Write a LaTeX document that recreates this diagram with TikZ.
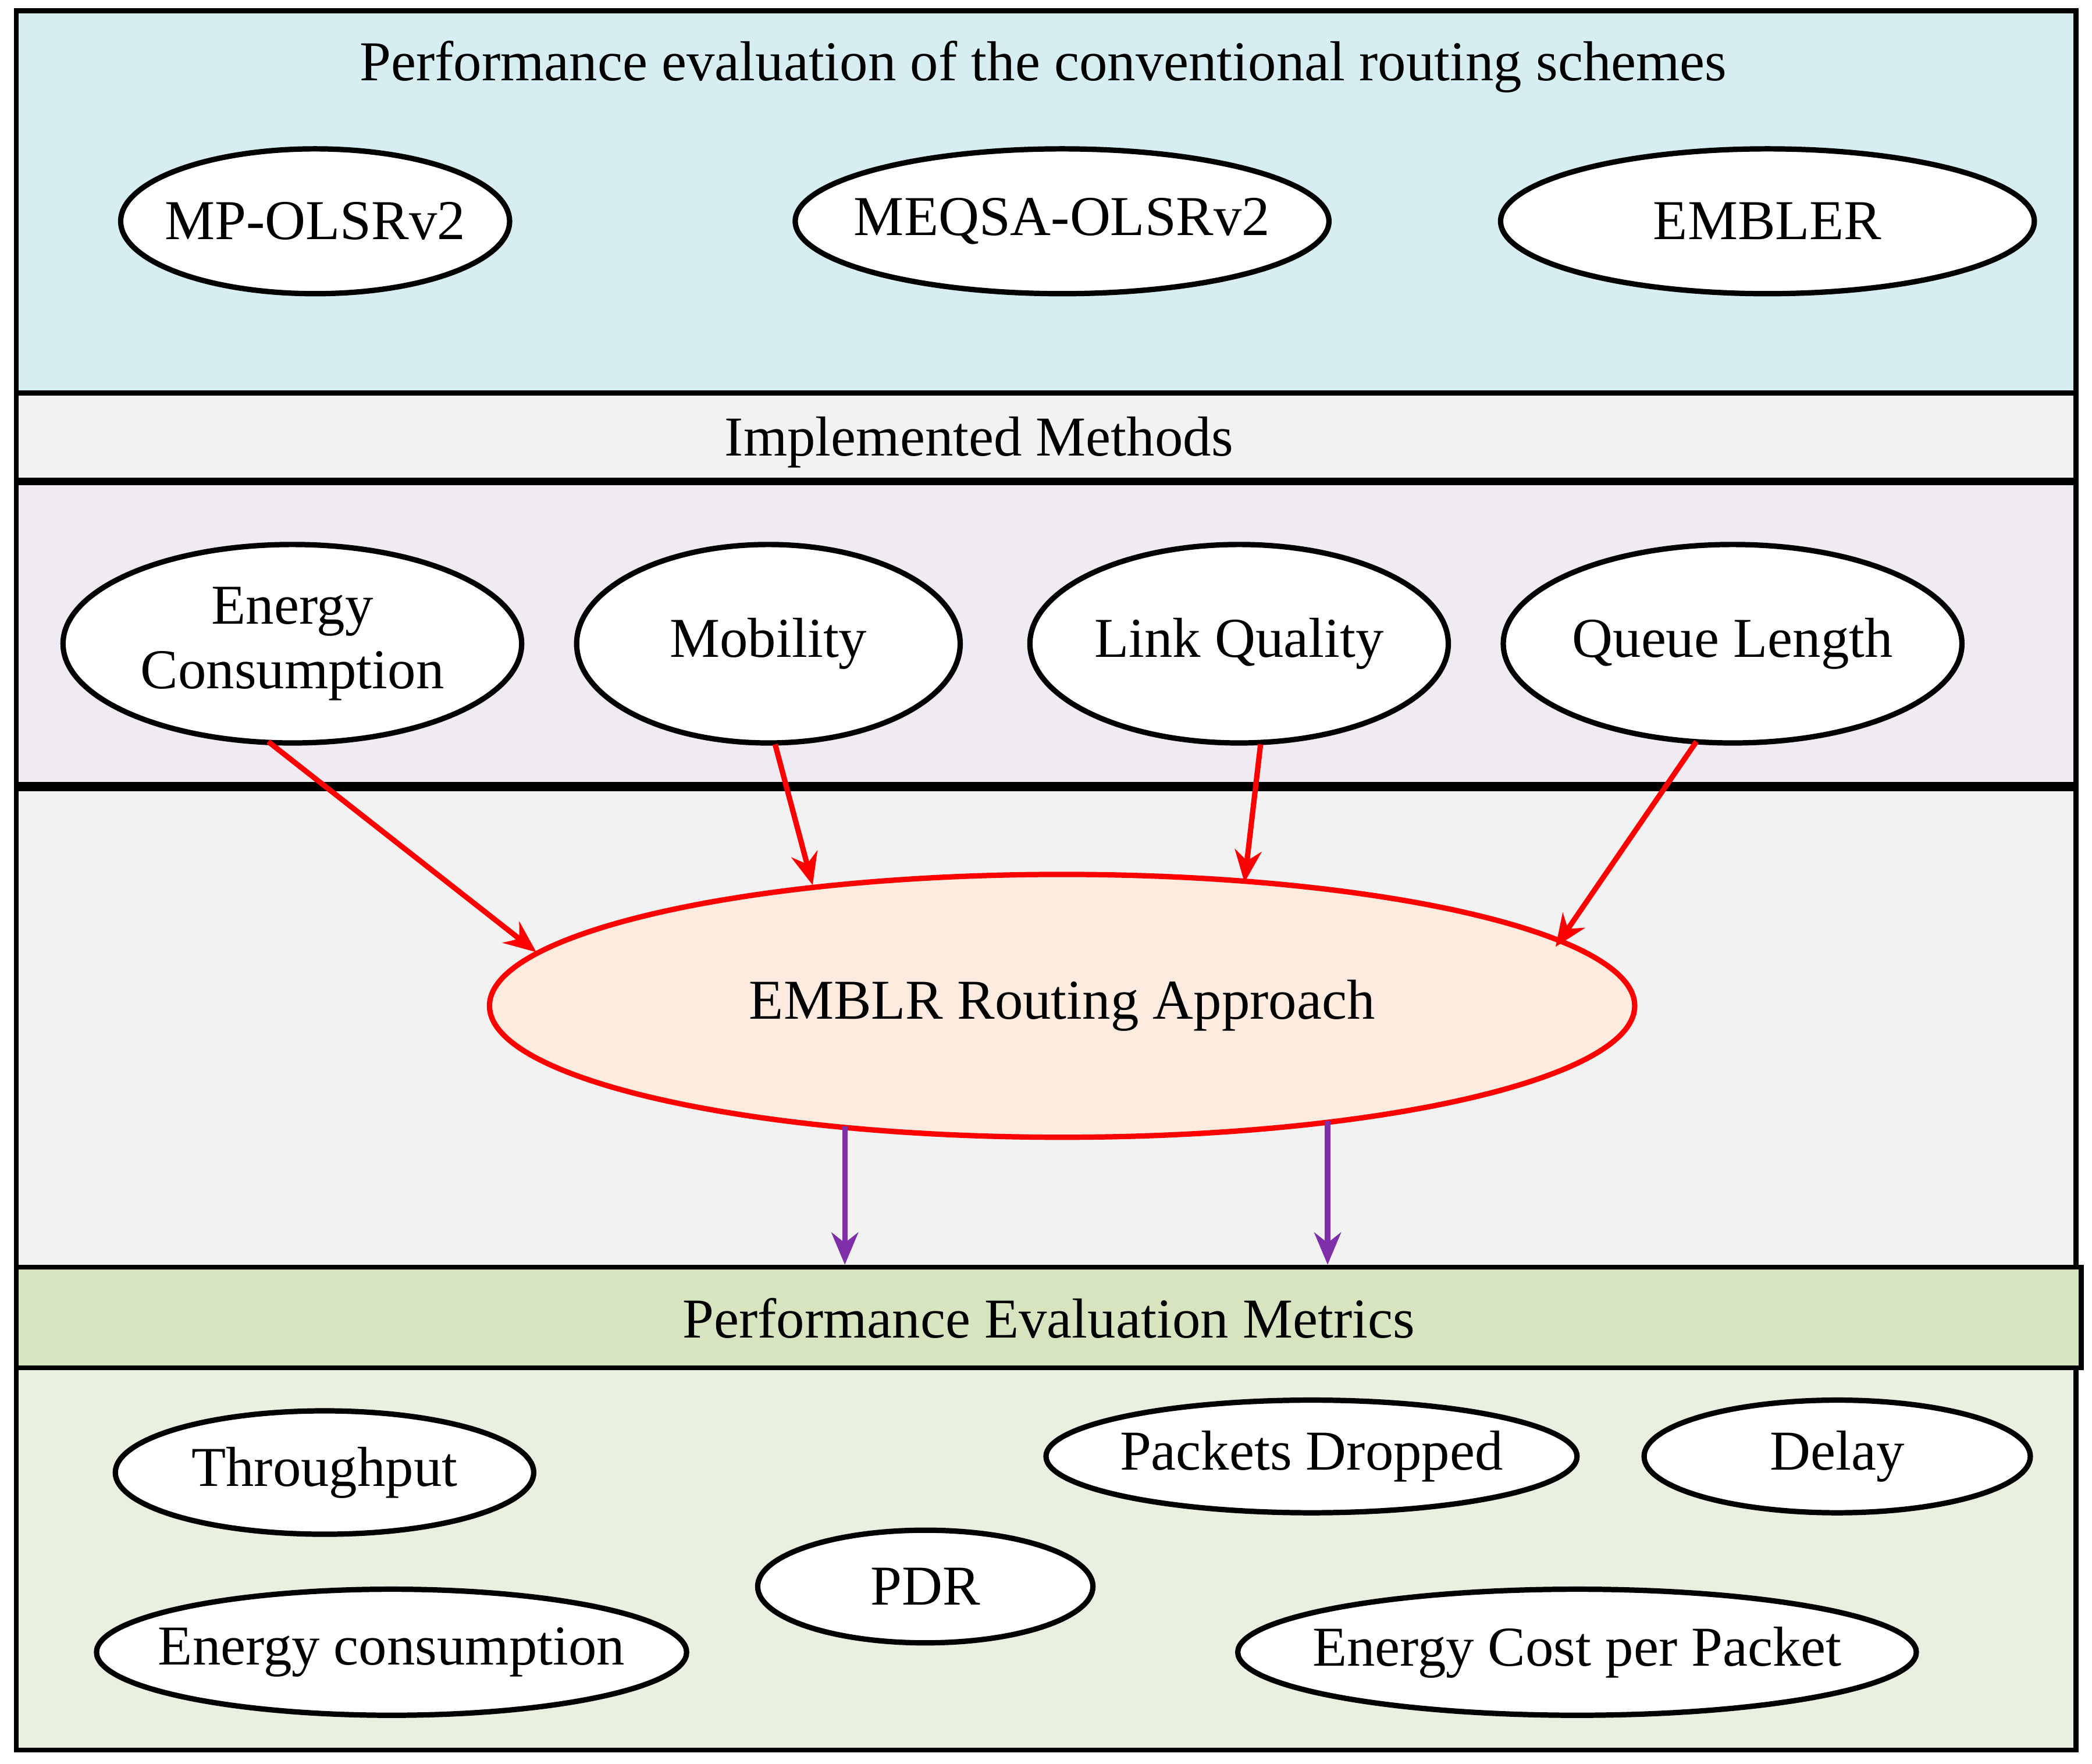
\documentclass[tikz,border=0pt]{standalone}
\usepackage{fontspec}
\setmainfont{Liberation Serif}
\usetikzlibrary{shapes.geometric,arrows.meta}
\definecolor{bluep}{HTML}{D6EEF2}
\definecolor{grayp}{HTML}{F2F2F2}
\definecolor{lavp}{HTML}{F0EBF2}
\definecolor{greenh}{HTML}{D6E4C0}
\definecolor{greenp}{HTML}{E9F0DF}
\definecolor{peach}{HTML}{FDEBDF}
\definecolor{purp}{HTML}{7F2FA8}
\newcommand{\zb}[1]{\makebox[0pt]{#1}}
\begin{document}
\begin{tikzpicture}[x=0.5pt,y=-0.5pt,
  every node/.style={font=\fontsize{21}{24}\selectfont},
  panel/.style={draw=black,line width=1.8pt},
  ov/.style={ellipse,draw=black,fill=white,line width=2pt,inner sep=0pt,align=center},
  rarr/.style={draw=red,line width=2pt,-{Stealth[length=12pt,width=10pt]}},
  parr/.style={draw=purp,line width=2pt,-{Stealth[length=12pt,width=10pt]}}]
\useasboundingbox (0,0) rectangle (1560,1315);
\fill[white] (0,0) rectangle (1560,1315);
\draw[panel,fill=bluep] (12,8) rectangle (1548,293);
\draw[panel,fill=grayp] (12,293) rectangle (1548,358);
\draw[panel,fill=lavp] (12,360) rectangle (1548,585);
\draw[panel,fill=grayp] (12,588) rectangle (1548,945);
\draw[panel,fill=greenh] (12,945) rectangle (1552,1020);
\draw[panel,fill=greenp] (12,1020) rectangle (1548,1305);
\node (t1) at (778,50) {Performance evaluation of the conventional routing schemes};
\node (t2) at (730,330) {Implemented Methods};
\node (t3) at (782,983) {Performance Evaluation Metrics};
\node[ov,minimum width=145pt,minimum height=54pt] (mp) at (235,165) {\zb{MP-OLSRv2}};
\node[ov,minimum width=199pt,minimum height=54pt] (mq) at (792,165) {\zb{MEQSA-OLSRv2}};
\node[ov,minimum width=199pt,minimum height=54pt] (em) at (1318,165) {\zb{EMBLER}};
\node[ov,minimum width=171pt,minimum height=74pt] (ec) at (218,480) {\zb{Energy}\\\zb{Consumption}};
\node[ov,minimum width=143pt,minimum height=74pt] (mo) at (573,480) {\zb{Mobility}};
\node[ov,minimum width=156pt,minimum height=74pt] (lq) at (924,480) {\zb{Link Quality}};
\node[ov,minimum width=171pt,minimum height=74pt] (ql) at (1292,480) {\zb{Queue Length}};
\node[ov,draw=red,fill=peach,minimum width=427pt,minimum height=98pt] (r) at (792,750) {\zb{EMBLR Routing Approach}};
\node[ov,minimum width=156pt,minimum height=46pt] (th) at (242,1098) {\zb{Throughput}};
\node[ov,minimum width=198pt,minimum height=42pt] (pd) at (978,1086) {\zb{Packets Dropped}};
\node[ov,minimum width=144pt,minimum height=42pt] (de) at (1370,1086) {\zb{Delay}};
\node[ov,minimum width=125pt,minimum height=42pt] (pdr) at (690,1183) {\zb{PDR}};
\node[ov,minimum width=220pt,minimum height=47pt] (enc) at (292,1232) {\zb{Energy consumption}};
\node[ov,minimum width=253pt,minimum height=47pt] (ecp) at (1176,1232) {\zb{Energy Cost per Packet}};
\coordinate (m1) at (630,943);
\coordinate (m2) at (990,943);
\draw[rarr] (200,553) -- (400,710);
\draw[rarr] (578,555) -- (606,660);
\draw[rarr] (940,555) -- (928,658);
\draw[rarr] (1265,553) -- (1160,706);
\draw[parr] (630,840) -- (m1);
\draw[parr] (990,836) -- (m2);
\end{tikzpicture}
\end{document}
